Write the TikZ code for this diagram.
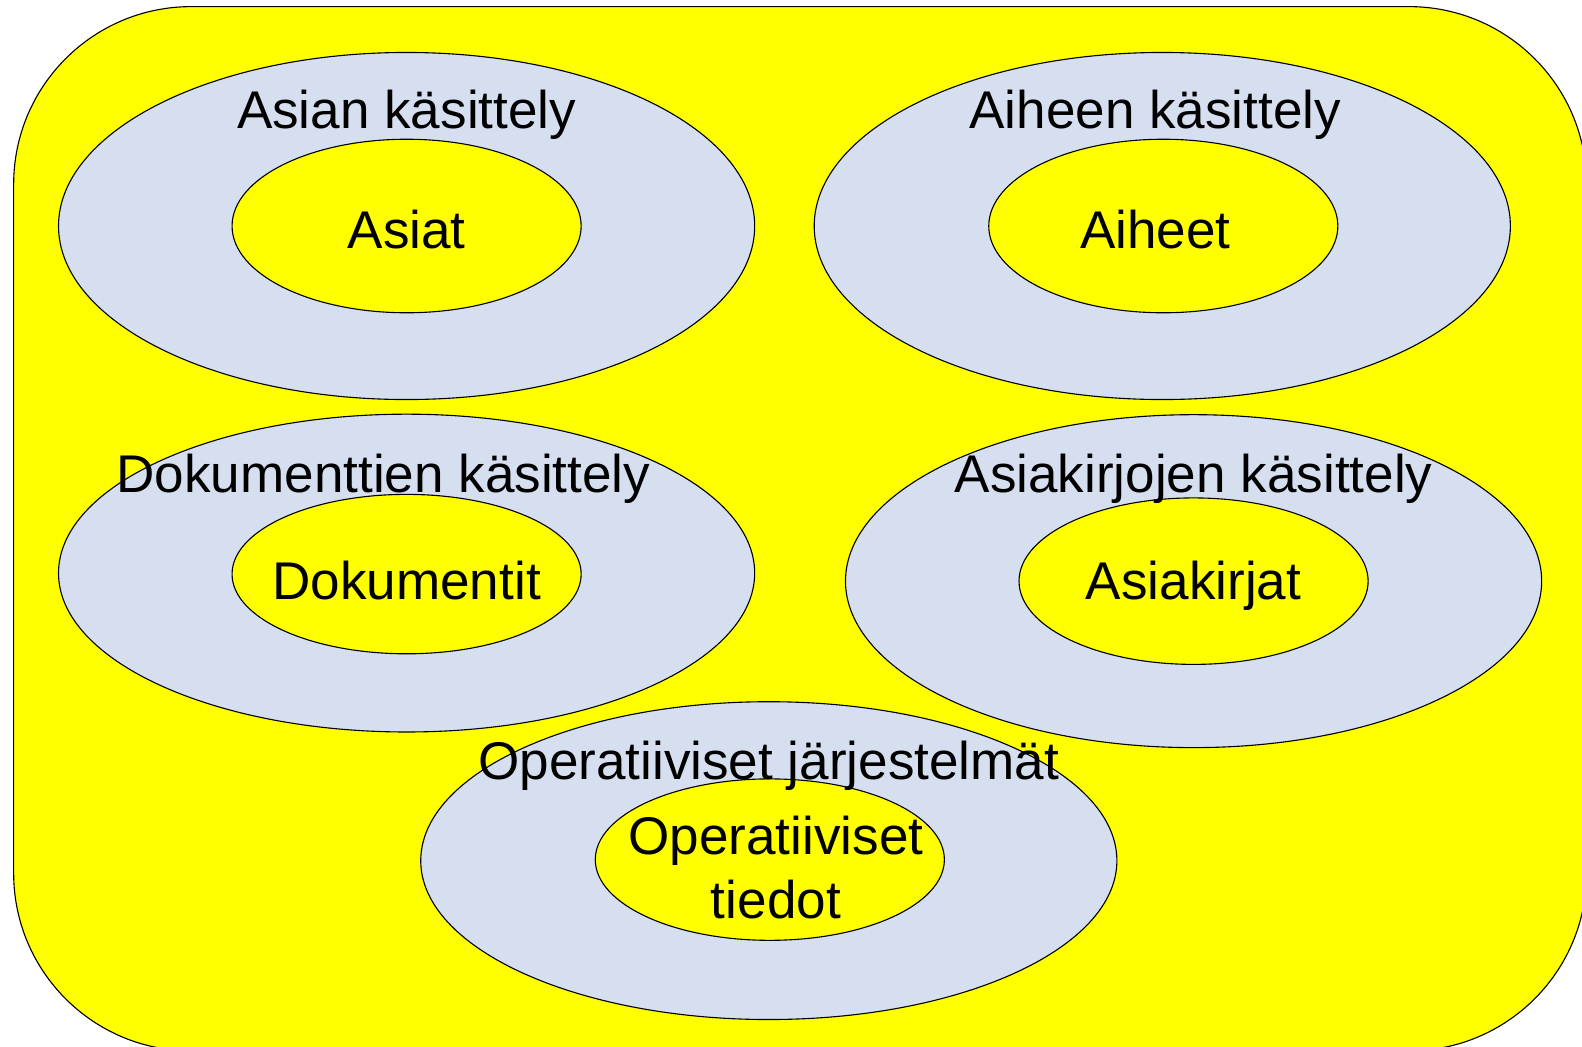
\documentclass[tikz,border=0pt]{standalone}
\usepackage{fontspec}
\setmainfont{Liberation Sans}
\usetikzlibrary{shapes.geometric}
\definecolor{yel}{RGB}{255,255,0}
\definecolor{lblue}{RGB}{214,223,239}
\begin{document}
\begin{tikzpicture}[x=1pt,y=-1pt,
  outerell/.style={ellipse,draw=black,line width=1.1pt,fill=lblue,inner sep=0pt},
  innerell/.style={ellipse,draw=black,line width=1.1pt,fill=yel,inner sep=0pt,minimum width=346pt},
  lbl/.style={anchor=base,inner sep=0pt,font=\fontsize{52.6}{63}\selectfont,align=center}]
\useasboundingbox (0,0) rectangle (1568,1037);
\clip (0,0) rectangle (1568,1037);
\fill[white] (0,0) rectangle (1568,1037);
\node[draw=black,line width=1.1pt,fill=yel,rounded corners=176pt,minimum width=1559pt,minimum height=1035pt,inner sep=0pt,anchor=north west] (bg) at (13,6) {};
% outer ellipses
\node[outerell,minimum width=690pt,minimum height=344pt] (o1) at (403,224) {};
\node[outerell,minimum width=690pt,minimum height=344pt] (o2) at (1152,224) {};
\node[outerell,minimum width=690pt,minimum height=315pt] (o3) at (403,568) {};
\node[outerell,minimum width=690pt,minimum height=330pt] (o4) at (1183,576) {};
\node[outerell,minimum width=690pt,minimum height=315pt] (o5) at (762,853) {};
% inner ellipses
\node[innerell,minimum height=172pt] (i1) at (403,224) {};
\node[innerell,minimum height=172pt] (i2) at (1153,224) {};
\node[innerell,minimum height=158pt] (i3) at (403,569) {};
\node[innerell,minimum height=165pt] (i4) at (1183,576) {};
\node[innerell,minimum height=160pt] (i5) at (763,852) {};
% titles
\node[lbl] (t1) at (403,127) {Asian käsittely};
\node[lbl] (t2) at (1145,127) {Aiheen käsittely};
\node[lbl] (t3) at (380,488) {Dokumenttien käsittely};
\node[lbl] (t4) at (1183,488) {Asiakirjojen käsittely};
\node[lbl] (t5) at (762,773) {Operatiiviset järjestelmät};
% inner labels
\node[lbl] (l1) at (403,246) {Asiat};
\node[lbl] (l2) at (1145,246) {Aiheet};
\node[lbl] (l3) at (403,594) {Dokumentit};
\node[lbl] (l4) at (1183,594) {Asiakirjat};
\node[lbl] (l5) at (769,910) {Operatiiviset\\tiedot};
\end{tikzpicture}
\end{document}
